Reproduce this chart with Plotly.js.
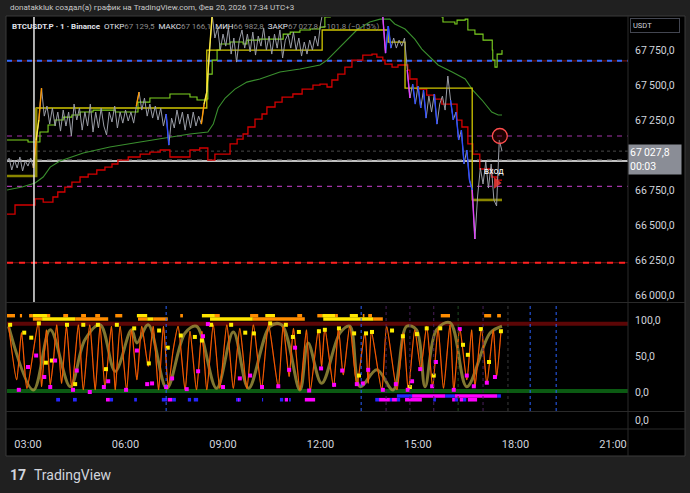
<!DOCTYPE html>
<html><head><meta charset="utf-8">
<script src="https://cdn.plot.ly/plotly-3.0.1.min.js"></script>
<style>html,body{margin:0;padding:0;background:#202020;}#chart{width:690px;height:493px;}</style>
</head><body><div id="chart"></div>
<script>
// ---------- DATA (time = minutes after midnight, Feb 20 2026) ----------
const barStartMin = 140;   // 02:20, 5-minute sampling of the 1m candles
const barStepMin = 5;
const closePrices = [66943,66978,66893,66964,66907,66986,66886,66957,66921,66978,66907,
67107,67250,67478,67278,67350,67221,67336,67207,67307,67171,
67321,67207,67307,67136,67364,67250,67336,67178,67307,67207,
67364,67164,67307,67193,67336,67207,67143,67307,67236,67350,
67193,67307,67228,67321,67243,67307,67228,67350,67450,67321,
67407,67278,67364,67264,67350,67250,67336,67207,67293,67071,
67264,67193,67321,67221,67307,67178,67293,67193,67307,67207,
67278,67221,67364,67450,67750,68000,67836,67907,67750,67864,
67778,67907,67721,67836,67664,67821,67893,67764,67864,67736,
67878,67714,67850,67778,67907,67750,67850,67721,67864,67764,
67893,67693,67821,67864,67764,67878,67750,67836,67707,67807,
67721,67821,67750,67850,67778,67936,68036,68093,68143,68193,
68164,68236,68207,68278,68250,68307,68264,68321,68293,68250,
68278,68221,68193,68164,68136,68093,68050,68007,67986,67728,
67921,67764,67836,67764,67821,67778,67836,67607,67407,67507,
67364,67493,67336,67464,67264,67421,67307,67436,67221,67364,
67421,67321,67564,67393,67250,67307,67107,67178,66936,67036,
66821,66750,66400,66707,66907,66793,66950,66764,66936,66679,
66636,67107,67027.8];
const orangeBars = [11,13,49,73];
const yellowBars = [12,74,75,76];
const blueBars = [60,141,142,151,153,155,159,165,167,169,171,172];
const magentaBars = [139,140,149,173];

const redStopMin = [141,156,193,208,226,235,248,261,276,291,307,322,335,346,365,387,405,424,442,479,497,512,525,553,566,577,586,599,612,621,636,649,669,686,706,719,732,741,752,765,778,798,815,824,835,839,852,863,881,885,898,916,931,944,972,981,992,1001,1014,1036,1046,1055];
const redStopPrice = [66578,66643,66686,66664,66700,66736,66771,66807,66843,66864,66893,66914,66936,66964,66986,67007,67021,67036,66986,67036,67050,66964,67007,67079,67114,67150,67200,67257,67293,67343,67378,67414,67436,67471,67500,67507,67486,67536,67578,67628,67678,67714,67721,67700,67678,67650,67628,67643,67607,67543,67471,67428,67400,67364,67250,67200,67079,67007,66900,66843,66821,66821];

const vwapMin = [141,169,193,208,221,239,282,331,387,429,479,512,522,531,544,562,584,608,645,682,719,732,750,769,787,811,830,848,857,876,894,907,918,937,963,987,1001,1018,1036,1048,1055];
const vwapPrice = [66750,66771,66800,66843,66914,66957,67014,67057,67093,67121,67150,67164,67221,67336,67407,67471,67521,67543,67593,67614,67643,67678,67750,67821,67893,67950,67971,67971,67936,67900,67828,67757,67714,67643,67593,67543,67464,67393,67307,67286,67286];

const upperMin = [141,180,198,202,217,230,245,261,276,300,322,341,374,383,405,442,479,492,510,512,520,529,534,553,577,584,608,651,664,682,701,719,728,738,830,941,944,946,968,972,987,992,1005,1020,1037,1038,1042,1046,1055];
const upperPrice = [67107,67093,67093,67164,67214,67250,67271,67286,67307,67321,67321,67307,67307,67378,67407,67436,67414,67393,67400,67578,67678,67750,67793,67807,67793,67821,67828,67864,67878,67893,67900,67914,67986,68143,68214,68143,67986,67950,67936,67964,67971,67893,67864,67821,67750,67678,67628,67721,67750];

const boxMin = [141,195,510,723,845,876,1000,1055];
const boxPrice = [66850,67336,67750,67893,67807,67478,66679,66679];

const levelBlue = 67673;
const levelMagenta = [67136, 66776];
const levelWhite = 66957;
const levelGray = 66964;
const levelRed = 66231;
const lastClose = 67027.8;
const sessionLineMin = 191;
const entryMin = 1040, entryPrice = 66878, entryLabel = 'вход';
const arrowMin = 1045, arrowPrice = 66800;
const alertMin = 1051, alertPrice = 67136;

// oscillator pane
const fastMin = [144,159,168,178,199,205,214,221,227,233,242,251,261,273,282,294,304,313,322,334,341,350,362,371,381,390,402,411,421,430,439,448,457,470,479,491,501,510,522,534,547,559,571,584,596,611,624,642,651,662,670,682,694,701,716,722,728,744,753,762,774,787,802,808,814,833,842,861,873,882,894,905,916,927,937,947,959,966,977,990,999,1005,1017,1027,1039,1045,1053];
const fastVal = [94,17,83,5,97,7.5,87,10,45,94,12,92,5,94,3,94,3,92,7.5,92,3,92,3,87,17,92,36,92,3,92,7.5,59,92,3,85,3,85,3,94,5,94,5,89,5,94,5,94,6.6,92,21.6,89,2.8,87,1.9,87,35.7,89,7.5,89,23.8,92,9.9,84,12.2,84,2.8,92,2.8,82.6,1.9,87,33,92,6.6,89,5.2,94,1.9,89,16.9,87,7.5,89,12.2,87,21.6,84];
const slowMin = [144,190,221,258,285,313,341,371,381,402,436,470,491,528,559,587,627,648,682,697,722,756,774,793,824,854,879,897,913,934,959,990,1033,1055];
const slowVal = [92,2.8,87,7.5,73,94,29,87,68.6,94,5.2,82.6,92,5.2,84,5.2,92,94,2.8,68.6,12.2,82.6,92,7.5,31,2.8,92,87,7.5,87,97,7.5,82.6,92];
const yMarkMin = [147,173,186,200,213,224,252,267,282,309,324,344,376,403,422,438,462,488,501,518,555,581,597,627,656,669,680,717,728,754,782,791,804,815,852,872,885,898,916,929,941,983,992,1016,1031,1053];
const yMarkVal = [94,83,76,96,41,44,94,11,94,94,32,94,89,40,86,62,79,77,72,94,94,83,82,96,94,77,84,85,87,89,82,23,82,84,86,78,7,81,89,23,89,66,52,88,42,85];
const mMarkMin = [163,180,195,210,221,230,263,270,294,320,328,361,381,400,409,435,446,473,494,503,512,540,571,590,612,642,662,673,699,721,745,760,787,798,808,835,859,881,889,904,926,933,966,977,990,1003,1027,1042];
const mMarkVal = [3,35,51,21,7,44,3,30,0,7,15,3,58,11,12,7,19,4,29,78,95,7,19,23,7,8,31,62,2,33,10,30,11,12,31,3,11,3,15,32,8,42,3,88,23,8,13,21];
const obLevel = 95.3, osLevel = 1.4;
const heatTopVal = 106.7, heatLowVal = 102.1, sigUpVal = -5.6, sigLowVal = -10.8;
const heatTopOrange = [[141,156],[165,169],[182,189],[215,221],[245,254],[278,287],[304,313],[341,354],[461,466],[525,534],[590,605],[677,686],[714,723],[747,752],[798,801],[808,815],[942,959],[1022,1035],[1046,1053]];
const heatTopYellow = [[189,215],[381,400],[501,525],[618,636],[723,747],[774,789]];
const heatLowOrange = [[189,206],[267,328],[383,400],[411,438],[595,691],[817,835]];
const heatLowYellow = [[206,267],[400,411],[516,595],[725,817]];
const sigLowBlue = [[232,239],[263,270],[331,337],[376,381],[427,437],[446,453],[475,481],[486,494],[564,573],[612,614],[645,651],[662,665],[821,828],[848,852],[861,867],[928,933],[968,974],[983,989]];
const sigLowMagenta = [[324,331],[438,446],[568,570],[654,660],[691,710],[828,848],[852,861],[876,907],[963,968],[977,983],[992,1009]];
const sigUpBlue = [[861,889],[950,968],[1046,1053]];
const sigUpMagenta = [[889,950],[968,1046]];
const vLinesBlue = [435,795,1107,1155];
const vLinesPurple = [841,885,929,1020];
const vLinesGreen = [974];
const vLinesGray = [1066];

// axes
const tickMin = [180,360,540,720,900,1080,1260];
const tickLabels = ['03:00','06:00','09:00','12:00','15:00','18:00','21:00'];
const priceTicks = [66000,66250,66500,66750,67250,67500,67750];
const priceTickLabels = ['66\u2009000,0','66\u2009250,0','66\u2009500,0','66\u2009750,0','67\u2009250,0','67\u2009500,0','67\u2009750,0'];
const oscTicks = [0,50,100];
const oscTickLabels = ['0,0','50,0','100,0'];

// ---------- BUILD ----------
const xMin = 141.2, xMax = 1287.6;
const FONT = 'Roboto, "Noto Sans", sans-serif';
const barMin = closePrices.map((_, i) => barStartMin + i * barStepMin);
const traces = [];
function hLine(v, yaxis, color, width, dash){
  traces.push({x:[xMin,xMax], y:[v,v], yaxis, mode:'lines', line:{color, width, dash}, hoverinfo:'skip'});
}
function line(xs, ys, yaxis, color, width, shape, extra){
  traces.push(Object.assign({x:xs, y:ys, yaxis, mode:'lines', line:{color, width, shape}, hoverinfo:'skip'}, extra||{}));
}
function segs(pairs, v, yaxis, color, width){
  const xs=[], ys=[];
  pairs.forEach(p => { xs.push(p[0], p[1], null); ys.push(v, v, null); });
  traces.push({x:xs, y:ys, yaxis, mode:'lines', line:{color, width}, hoverinfo:'skip'});
}
function barSegs(idx, color){
  const xs=[], ys=[];
  idx.forEach(i => { xs.push(barMin[i-1], barMin[i], null); ys.push(closePrices[i-1], closePrices[i], null); });
  traces.push({x:xs, y:ys, yaxis:'y', mode:'lines', line:{color, width:1.4}, hoverinfo:'skip'});
}

// main pane levels
hLine(levelBlue, 'y', '#6a1414', 1.2, 'solid');
hLine(levelBlue, 'y', '#2f6bff', 2, '5px,5px');
levelMagenta.forEach(v => hLine(v, 'y', '#a335a8', 1.2, '5px,5px'));
hLine(lastClose, 'y', '#4a4a4a', 1, 'dot');
hLine(levelWhite, 'y', '#ffffff', 1.6, 'solid');
hLine(levelGray, 'y', '#8a8a8a', 1.2, '5px,5px');
hLine(levelRed, 'y', '#5a0c0c', 1.4, 'solid');
hLine(levelRed, 'y', '#ff2020', 2, '6px,6px');

// indicator lines
line(vwapMin, vwapPrice, 'y', '#3a8f2e', 1.1, 'linear');
line(upperMin, upperPrice, 'y', '#7ed321', 1.1, 'hv');
line(redStopMin, redStopPrice, 'y', '#d40000', 1.3, 'hv');
line(boxMin, boxPrice, 'y', '#cfc600', 1.3, 'hv');
line(boxMin.slice(0,2), boxPrice.slice(0,2), 'y', '#8a8600', 2.6, 'hv');
line(boxMin.slice(-2), boxPrice.slice(-2), 'y', '#8a8600', 2.6, 'hv');

// price
line(barMin, closePrices, 'y', '#9a9da6', 1, 'linear');
barSegs(orangeBars, '#ff9800');
barSegs(yellowBars, '#ffeb3b');
barSegs(blueBars, '#2d4bff');
barSegs(magentaBars, '#e040fb');

// signals
traces.push({x:[alertMin], y:[alertPrice], yaxis:'y', mode:'markers',
  marker:{symbol:'circle', size:15, color:'rgba(90,0,0,0.35)', line:{color:'#ff4d4d', width:1.3}}, hoverinfo:'skip'});
traces.push({x:[arrowMin], y:[arrowPrice], yaxis:'y', mode:'markers',
  marker:{symbol:'triangle-right', size:10, color:'rgba(229,57,53,0.9)'}, hoverinfo:'skip'});
traces.push({x:[entryMin], y:[entryPrice], yaxis:'y', mode:'text', text:[entryLabel],
  textfont:{color:'#ffffff', size:9, family:FONT}, hoverinfo:'skip'});

// oscillator pane
hLine(obLevel, 'y2', '#5c0606', 4);
hLine(osLevel, 'y2', '#0b5a12', 4);
line(slowMin, slowVal, 'y2', 'rgba(165,152,62,0.78)', 3, 'spline');
line(fastMin, fastVal, 'y2', '#d62200', 1.2, 'spline', {line:{color:'#d62200', width:1.2, shape:'spline', smoothing:0.6}});
line(fastMin, fastVal, 'y2', '#ff8f00', 0.6, 'spline', {line:{color:'#ff8f00', width:0.6, shape:'spline', smoothing:0.6}});
traces.push({x:yMarkMin, y:yMarkVal, yaxis:'y2', mode:'markers', marker:{symbol:'square', size:4, color:'#ffee00'}, hoverinfo:'skip'});
traces.push({x:mMarkMin, y:mMarkVal, yaxis:'y2', mode:'markers', marker:{symbol:'square', size:4, color:'#ff00ff'}, hoverinfo:'skip'});
segs(heatTopOrange, heatTopVal, 'y2', '#ff8c00', 3.4);
segs(heatTopYellow, heatTopVal, 'y2', '#ffe600', 3.4);
segs(heatLowOrange, heatLowVal, 'y2', '#ff8c00', 3.4);
segs(heatLowYellow, heatLowVal, 'y2', '#ffe600', 3.4);
segs(sigLowBlue, sigLowVal, 'y2', '#2626ff', 3.6);
segs(sigLowMagenta, sigLowVal, 'y2', '#ff00ff', 3.6);
segs(sigUpBlue, sigUpVal, 'y2', '#2626ff', 3.4);
segs(sigUpMagenta, sigUpVal, 'y2', '#ff00ff', 3.4);
// third (empty) pane placeholder so its axis is created
traces.push({x:[xMin], y:[0], yaxis:'y3', mode:'markers', marker:{opacity:0}, hoverinfo:'skip'});

// shapes
const px = v => (v - 7) / 621, py = v => (428 - v) / 411;
const shapes = [
  {type:'rect', xref:'paper', yref:'paper', x0:px(6), x1:px(685), y0:py(456), y1:py(16), fillcolor:'#000', line:{color:'#3a3a3a', width:1}, layer:'below'},
  {type:'line', xref:'paper', yref:'paper', x0:px(6), x1:px(685), y0:py(302.5), y1:py(302.5), line:{color:'#2a2a2a', width:1}, layer:'above'},
  {type:'line', xref:'paper', yref:'paper', x0:px(6), x1:px(685), y0:py(411.5), y1:py(411.5), line:{color:'#2a2a2a', width:1}, layer:'above'},
  {type:'line', xref:'paper', yref:'paper', x0:px(6), x1:px(685), y0:py(429), y1:py(429), line:{color:'#2a2a2a', width:1}, layer:'above'},
  {type:'line', xref:'paper', yref:'paper', x0:1, x1:1, y0:py(456), y1:py(16), line:{color:'#2a2a2a', width:1}, layer:'above'},
  {type:'line', xref:'x', yref:'y domain', x0:sessionLineMin, x1:sessionLineMin, y0:0, y1:1, line:{color:'#e8e8e8', width:1.5}}
];
const vl = (arr, color) => arr.forEach(m => shapes.push({type:'line', xref:'x', yref:'y2 domain', x0:m, x1:m, y0:0, y1:1, line:{color, width:1, dash:'dot'}}));
vl(vLinesBlue, '#2962ff'); vl(vLinesPurple, '#4a1f5a'); vl(vLinesGreen, '#1f4a1f'); vl(vLinesGray, '#3a3a3a');

const axisFont = {color:'#d1d4dc', size:10.5, family:FONT};
const gray = s => '<span style="color:#8c8c8c">' + s + '</span>';
const header = '<b>BTCUSDT.P · 1 · Binance</b>\u00a0\u00a0ОТКР' + gray('67\u2009129,5') + '\u00a0\u00a0МАКС' + gray('67\u2009166,1') +
  '\u00a0\u00a0МИН' + gray('66\u2009982,8') + '\u00a0\u00a0ЗАКР' + gray('67\u2009027,8') + '\u00a0\u00a0' + gray('−101,8 (−0,15%)');

const annotations = [
  {xref:'paper', yref:'paper', x:px(8), y:py(8), xanchor:'left', yanchor:'middle', showarrow:false,
   text:'donatakkluk создал(а) график на TradingView.com, Фев 20, 2026 17:34 UTC+3', font:{color:'#c8c8c8', size:8, family:FONT}},
  {xref:'paper', yref:'paper', x:px(10), y:py(27), xanchor:'left', yanchor:'middle', showarrow:false,
   text:header, font:{color:'#e0e3eb', size:8, family:FONT}},
  {xref:'paper', yref:'paper', x:1, xshift:2, y:py(18), xanchor:'left', yanchor:'top', showarrow:false,
   text:'USDT', font:{color:'#d1d4dc', size:7.5, family:FONT}, bordercolor:'#434651', borderwidth:1, borderpad:2, width:44, align:'left'},
  {xref:'paper', yref:'y', x:1, y:lastClose, yshift:7, xanchor:'left', yanchor:'top', showarrow:false,
   text:'67\u2009027,8<br>00:03', align:'left', font:{color:'#ffffff', size:10.5, family:FONT}, bgcolor:'#8a8d96', borderpad:1, width:50},
  {xref:'paper', yref:'paper', x:px(8), y:py(475), xanchor:'left', yanchor:'middle', showarrow:false,
   text:'<b>17</b>', font:{color:'#d1d4dc', size:14, family:FONT}},
  {xref:'paper', yref:'paper', x:px(32), y:py(475), xanchor:'left', yanchor:'middle', showarrow:false,
   text:'TradingView', font:{color:'#d1d4dc', size:14, family:FONT}}
];

const layout = {
  width:690, height:493, margin:{l:7, r:62, t:17, b:65},
  paper_bgcolor:'#202020', plot_bgcolor:'#000000', showlegend:false, hovermode:false,
  xaxis:{range:[xMin,xMax], anchor:'free', position:0, tickvals:tickMin, ticktext:tickLabels, showgrid:false, zeroline:false,
         showline:false, ticks:'outside', ticklen:6, tickcolor:'rgba(0,0,0,0)', tickfont:{color:'#d1d4dc', size:11, family:FONT}},
  yaxis:{domain:[py(302), 1], range:[65950,67986], side:'right', anchor:'x', tickvals:priceTicks, ticktext:priceTickLabels,
         showgrid:false, zeroline:false, ticks:'outside', ticklen:4, tickcolor:'rgba(0,0,0,0)', tickfont:axisFont},
  yaxis2:{domain:[py(411), py(303)], range:[-26.6,124.5], side:'right', anchor:'x', tickvals:oscTicks, ticktext:oscTickLabels,
         showgrid:false, zeroline:false, ticks:'outside', ticklen:4, tickcolor:'rgba(0,0,0,0)', tickfont:axisFont},
  yaxis3:{domain:[0, py(412)], range:[-1,1], side:'right', anchor:'x', tickvals:[0], ticktext:['0,0'],
         showgrid:false, zeroline:false, ticks:'outside', ticklen:4, tickcolor:'rgba(0,0,0,0)', tickfont:axisFont},
  shapes, annotations
};
Plotly.newPlot('chart', traces, layout, {staticPlot:true, displayModeBar:false});
</script></body></html>
